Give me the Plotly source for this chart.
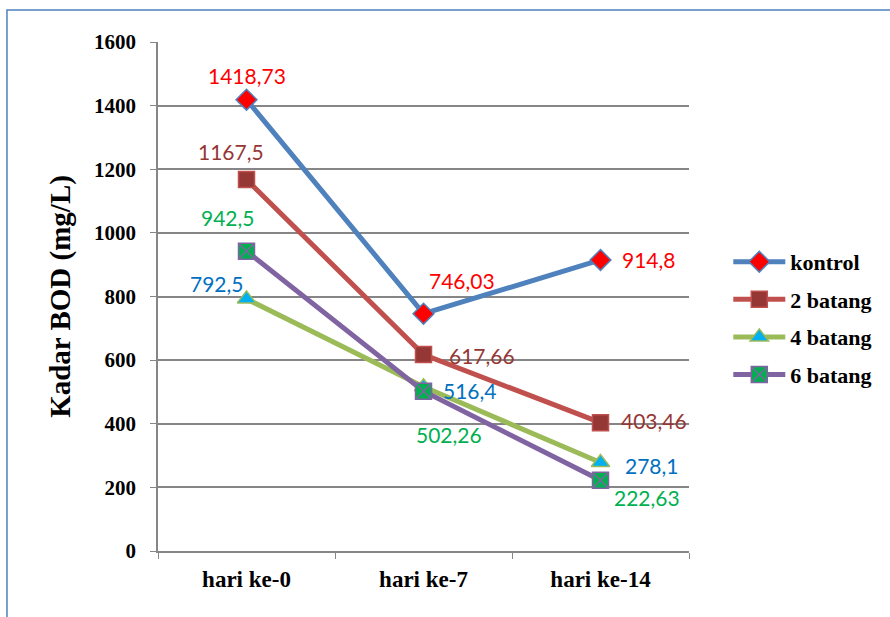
import plotly.graph_objects as go

# Sampling days and BOD concentration (mg/L) for each treatment
days = ["hari ke-0", "hari ke-7", "hari ke-14"]
kontrol = [1418.73, 746.03, 914.8]
batang_2 = [1167.5, 617.66, 403.46]
batang_4 = [792.5, 516.4, 278.1]
batang_6 = [942.5, 502.26, 222.63]

series = [
    dict(name="kontrol", y=kontrol, line="#4F81BD", symbol="diamond",
         fill="#FF0000", edge="#4F81BD", size=16, label="#FF0000",
         offsets=[(0, 24), (38, 33), (48, 0)]),
    dict(name="2 batang", y=batang_2, line="#C0504D", symbol="square",
         fill="#953735", edge="#C0504D", size=16, label="#953735",
         offsets=[(-16, 28), (58, -1), (53, 2)]),
    dict(name="4 batang", y=batang_4, line="#9BBB59", symbol="triangle-up",
         fill="#00B0F0", edge="#9BBB59", size=16, label="#0070C0",
         offsets=[(-30, 15), (46, -4), (51, -3)]),
    dict(name="6 batang", y=batang_6, line="#8064A2", symbol="square-x",
         fill="#00B050", edge="#8064A2", size=16, label="#00B050",
         offsets=[(-19, 34), (25, -43), (46, -17)]),
]


def fmt(v):
    s = f"{v:.2f}".rstrip("0").rstrip(".")
    return s.replace(".", ",")


fig = go.Figure()
annotations = []
for s in series:
    fig.add_trace(go.Scatter(
        x=days, y=s["y"], name=s["name"], mode="lines+markers",
        line=dict(color=s["line"], width=5),
        marker=dict(symbol=s["symbol"], size=s["size"], color=s["fill"],
                    line=dict(color=s["edge"], width=1.5)),
        legendgroup=s["name"],
    ))
    for d, v, (dx, dy) in zip(days, s["y"], s["offsets"]):
        annotations.append(dict(
            x=d, y=v, xref="x", yref="y", text=fmt(v), showarrow=False,
            xshift=dx, yshift=dy,
            font=dict(family="Lato", size=21, color=s["label"]),
        ))

serif = "Liberation Serif"

fig.update_layout(
    width=890, height=617,
    margin=dict(l=158, r=201, t=42, b=66),
    paper_bgcolor="white", plot_bgcolor="white",
    showlegend=True,
    legend=dict(
        x=1.074, y=0.457, xanchor="left", yanchor="middle",
        font=dict(family=serif, size=22, color="black", weight="bold"),
        tracegroupgap=6, itemwidth=52, bgcolor="rgba(0,0,0,0)",
    ),
    annotations=annotations,
    shapes=[dict(type="rect", xref="paper", yref="paper",
                 x0=-0.2844, x1=3, y0=-3, y1=1.0629,
                 line=dict(color="#4F81BD", width=1.5), layer="below")],
)

fig.update_xaxes(
    type="category", showgrid=False, showline=True, linecolor="#868686", linewidth=1.5,
    ticks="outside", tickson="boundaries", ticklen=6, tickcolor="#868686",
    ticklabelstandoff=7,
    tickfont=dict(family=serif, size=23, color="black", weight="bold"),
    range=[-0.5, 2.5],
)
fig.update_yaxes(
    range=[0, 1600], tickvals=[0, 200, 400, 600, 800, 1000, 1200, 1400, 1600],
    showgrid=True, gridcolor="#868686", gridwidth=1.5,
    showline=True, linecolor="#868686", linewidth=1.5,
    ticks="outside", ticklen=6, tickcolor="#868686",
    ticklabelstandoff=10,
    tickfont=dict(family=serif, size=21, color="black", weight="bold"),
    zeroline=False,
    title=dict(text="Kadar BOD (mg/L)", standoff=15,
               font=dict(family=serif, size=29, color="black", weight="bold")),
)

fig.write_html("out.html")
